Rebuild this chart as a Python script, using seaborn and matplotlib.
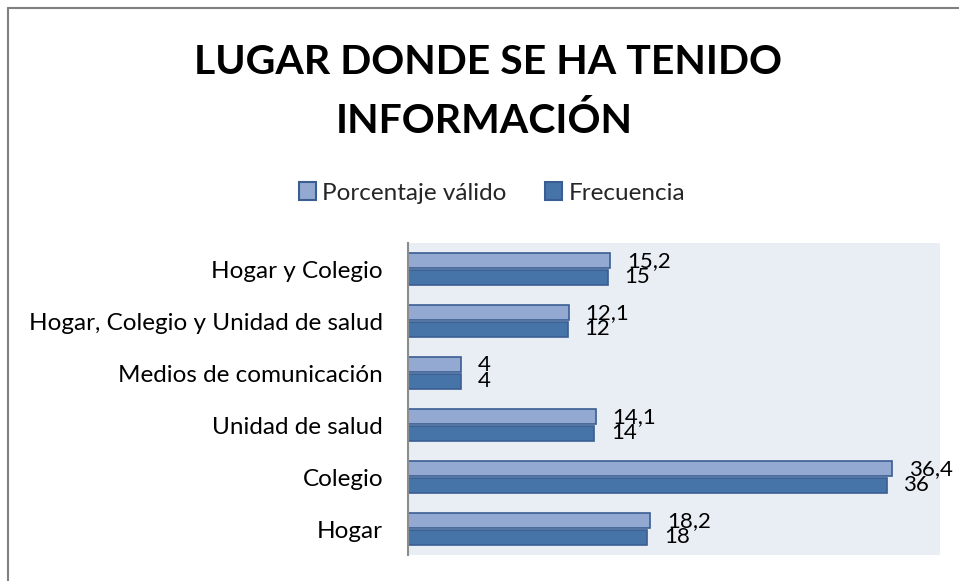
import matplotlib
matplotlib.use("Agg")
import matplotlib.pyplot as plt
from matplotlib.lines import Line2D
import pandas as pd
import seaborn as sns

# data (top to bottom)
categories = [
    "Hogar y Colegio",
    "Hogar, Colegio y Unidad de salud",
    "Medios de comunicación",
    "Unidad de salud",
    "Colegio",
    "Hogar",
]
porcentaje = [15.2, 12.1, 4.0, 14.1, 36.4, 18.2]
frecuencia = [15, 12, 4, 14, 36, 18]
series_names = ["Porcentaje válido", "Frecuencia"]

LIGHT = "#94A9D1"
DARK = "#4674A9"
EDGE = "#3A5E92"

sns.set_theme(style="white")
plt.rcParams["font.family"] = ["Lato", "DejaVu Sans"]

df = pd.DataFrame({
    "cat": categories * 2,
    "val": porcentaje + frecuencia,
    "serie": [series_names[0]] * len(categories) + [series_names[1]] * len(categories),
})

fig = plt.figure(figsize=(9.59, 5.81), dpi=100)
ax = fig.add_axes([408 / 959, 1 - 555 / 581, (940 - 408) / 959, (555 - 243) / 581])
ax.set_facecolor("#E9EDF4")

sns.barplot(data=df, y="cat", x="val", hue="serie", order=categories,
            hue_order=series_names, palette=[LIGHT, DARK], saturation=1,
            orient="h", width=0.64, gap=0.08, edgecolor=EDGE, linewidth=1.2, ax=ax)

def fmt(v):
    return f"{v:g}".replace(".", ",")

for cont in ax.containers:
    ax.bar_label(cont, labels=[fmt(b.get_width()) for b in cont],
                 padding=12, fontsize=16, color="black")

ax.set_xlim(0, 40)
ax.set_ylim(len(categories) - 0.5, -0.5)
ax.set_xlabel("")
ax.set_ylabel("")
ax.set_xticks([])
ax.tick_params(axis="y", length=0, pad=18, labelsize=17.5, labelcolor="black")
for s in ["top", "right", "bottom"]:
    ax.spines[s].set_visible(False)
ax.spines["left"].set_color("#8C8C8C")
ax.spines["left"].set_linewidth(1.5)

leg = ax.legend(loc="center", bbox_to_anchor=(492 / 959, 1 - 193 / 581),
                bbox_transform=fig.transFigure, ncol=2, frameon=False,
                fontsize=17.5, handlelength=0.7, handleheight=0.7,
                handletextpad=0.25, columnspacing=1.6)
for h in leg.legend_handles:
    h.set_edgecolor(EDGE)
    h.set_linewidth(1.5)

fig.text(488 / 959, 1 - 62 / 581, "LUGAR DONDE SE HA TENIDO", ha="center", va="center",
         fontsize=29.5, fontweight="bold", color="black")
fig.text(484 / 959, 1 - 121 / 581, "INFORMACIÓN", ha="center", va="center",
         fontsize=29.5, fontweight="bold", color="black")

# outer chart frame (only left and top edges are inside the crop)
fig.add_artist(Line2D([8 / 959, 8 / 959], [0, 1 - 8 / 581], color="#808080", lw=1.5,
                      transform=fig.transFigure))
fig.add_artist(Line2D([8 / 959, 1], [1 - 8 / 581, 1 - 8 / 581], color="#808080", lw=1.5,
                      transform=fig.transFigure))

fig.savefig("out.png", dpi=100, facecolor="white")
